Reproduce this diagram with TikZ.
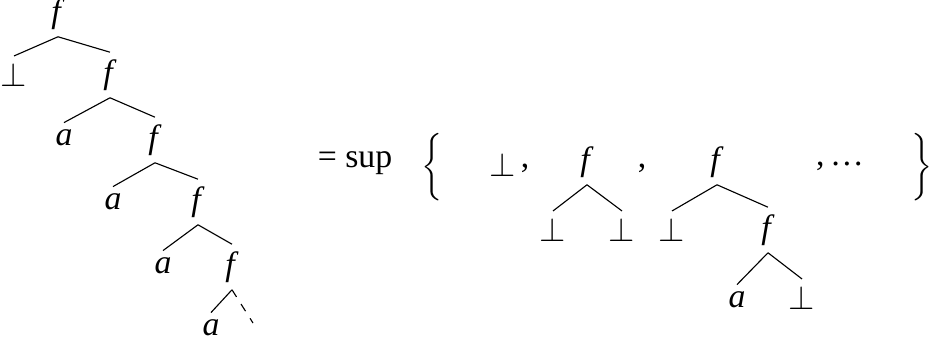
\documentclass[tikz,border=0pt]{standalone}
\usepackage{fontspec}
\setmainfont{Liberation Serif}
\begin{document}
\begin{tikzpicture}[x=0.0125cm, y=-0.0125cm, every node/.style={font=\large, inner sep=2.4pt}]
    \useasboundingbox (0,0) rectangle (934,343);
    % 1. Cây vô hạn bên trái
    \node (f0) at (58,14) {\textit{f}};
    \node (b0) at (14,75) {$\bot$};
    \node (f1) at (110,75) {\textit{f}};
    \node (a1) at (64,138) {\textit{a}};
    \node (f2) at (155,140) {\textit{f}};
    \node (a2) at (113,202) {\textit{a}};
    \node (f3) at (198,202) {\textit{f}};
    \node (a3) at (163,266) {\textit{a}};
    \node (f4) at (232,267) {\textit{f}};
    \node (a4) at (211,328) {\textit{a}};
    \coordinate (more) at (253,323);
    \draw (f0.south) -- (b0.north);
    \draw (f0.south) -- (f1.north);
    \draw (f1.south) -- (a1.north);
    \draw (f1.south) -- (f2.north);
    \draw (f2.south) -- (a2.north);
    \draw (f2.south) -- (f3.north);
    \draw (f3.south) -- (a3.north);
    \draw (f3.south) -- (f4.north);
    \draw (f4.south) -- (a4.north);
    \draw[dashed] (f4.south) -- (more);

    % 2. Dấu bằng và tập hợp
    \node (eq) at (355,163) {= sup};
    \node (lb) at (432,167) {$\bigg\{$};
    \node (rb) at (922,167) {$\bigg\}$};
    \node (s0) at (503,165) {$\bot$};
    \node (c1) at (525,168) {,};
    \node (c2) at (642,168) {,};
    \node (dots) at (840,166) {,\,\dots};

    % 3. Cây thứ hai
    \node (sf) at (587,162) {\textit{f}};
    \node (sb1) at (553,230) {$\bot$};
    \node (sb2) at (622,230) {$\bot$};
    \draw (sf.south) -- (sb1.north);
    \draw (sf.south) -- (sb2.north);

    % 4. Cây thứ ba
    \node (tf) at (717,162) {\textit{f}};
    \node (tb) at (672,230) {$\bot$};
    \node (tf2) at (768,230) {\textit{f}};
    \node (ta) at (737,300) {\textit{a}};
    \node (tb2) at (802,298) {$\bot$};
    \draw (tf.south) -- (tb.north);
    \draw (tf.south) -- (tf2.north);
    \draw (tf2.south) -- (ta.north);
    \draw (tf2.south) -- (tb2.north);
\end{tikzpicture}
\end{document}
